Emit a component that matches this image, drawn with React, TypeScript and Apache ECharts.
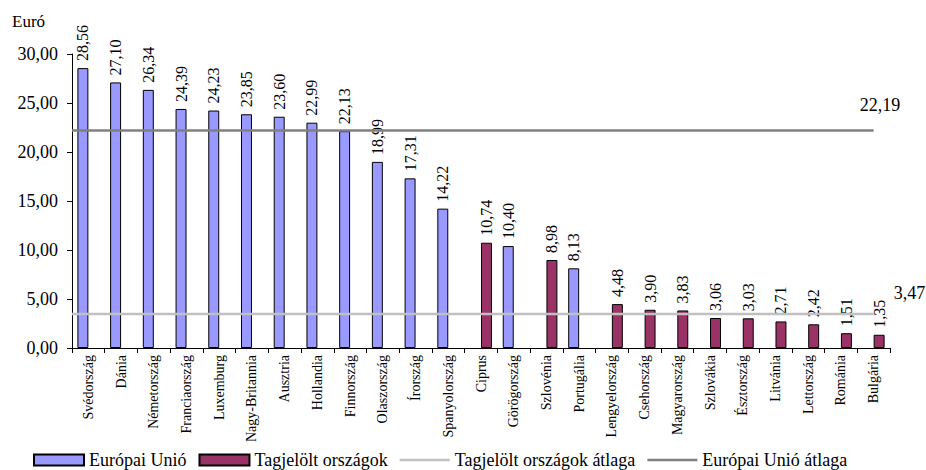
import React, { useEffect, useRef } from "react";
import * as echarts from "echarts";

const categories = [
  "Svédország", "Dánia", "Németország", "Franciaország", "Luxemburg", "Nagy-Britannia",
  "Ausztria", "Hollandia", "Finnország", "Olaszország", "Írország", "Spanyolország",
  "Ciprus", "Görögország", "Szlovénia", "Portugália", "Lengyelország", "Csehország",
  "Magyarország", "Szlovákia", "Észtország", "Litvánia", "Lettország", "Románia", "Bulgária",
];

const euValues = [
  28.56, 27.10, 26.34, 24.39, 24.23, 23.85, 23.60, 22.99, 22.13, 18.99, 17.31, 14.22,
  null, 10.40, null, 8.13, null, null, null, null, null, null, null, null, null,
];

const candidateValues = [
  null, null, null, null, null, null, null, null, null, null, null, null,
  10.74, null, 8.98, null, 4.48, 3.90, 3.83, 3.06, 3.03, 2.71, 2.42, 1.51, 1.35,
];

const euAverage = 22.19;
const candidateAverage = 3.47;

const yTicks = { min: 0, max: 30, interval: 5 };

const seriesNames = [
  "Európai Unió",
  "Tagjelölt országok",
  "Tagjelölt országok átlaga",
  "Európai Unió átlaga",
];

const FONT = "Times New Roman, Liberation Serif, serif";
const fmt = (v: number) => v.toFixed(2).replace(".", ",");
const LINE_ICON = "path://M0,0L50,0L50,2.5L0,2.5Z";

export default function App() {
  const ref = useRef<HTMLDivElement>(null);
  useEffect(() => {
    if (!ref.current) return;
    const chart = echarts.init(ref.current, undefined, { renderer: "svg" });
    const lineEnd = categories.length - 0.5;
    const barLabel = {
      show: true,
      position: "top",
      rotate: 90,
      align: "left",
      verticalAlign: "middle",
      distance: 7,
      fontSize: 16,
      fontFamily: FONT,
      color: "#000",
      formatter: (p: any) => fmt(p.value),
    };
    chart.setOption({
      animation: false,
      textStyle: { fontFamily: FONT, color: "#000" },
      title: {
        text: "Euró",
        left: 7,
        top: 8,
        textStyle: { fontFamily: FONT, fontSize: 17, fontWeight: "normal", color: "#000" },
      },
      grid: { left: 72, right: 36, top: 54, bottom: 122 },
      legend: {
        data: [
          { name: seriesNames[0], icon: "rect" },
          { name: seriesNames[1], icon: "rect" },
          { name: seriesNames[2], icon: LINE_ICON },
          { name: seriesNames[3], icon: LINE_ICON },
        ],
        left: 33,
        top: 451,
        padding: 0,
        itemWidth: 50,
        itemHeight: 11,
        itemGap: 12,
        textStyle: { fontFamily: FONT, fontSize: 18, color: "#000" },
      },
      xAxis: [
        {
          type: "category",
          data: categories,
          axisLine: { lineStyle: { color: "#000", width: 1 } },
          axisTick: { show: true, length: 5, lineStyle: { color: "#000" } },
          axisLabel: {
            rotate: 90,
            interval: 0,
            fontSize: 14,
            fontFamily: FONT,
            color: "#000",
            margin: 7,
          },
        },
        { type: "value", min: 0, max: categories.length, show: false },
      ],
      yAxis: {
        type: "value",
        min: yTicks.min,
        max: yTicks.max,
        interval: yTicks.interval,
        axisLine: { show: true, lineStyle: { color: "#000", width: 1 } },
        axisTick: { show: true, length: 5, lineStyle: { color: "#000" } },
        splitLine: { show: false },
        axisLabel: {
          formatter: (v: number) => fmt(v),
          fontSize: 18,
          fontFamily: FONT,
          color: "#000",
          margin: 14,
        },
      },
      series: [
        {
          name: seriesNames[0],
          type: "bar",
          data: euValues,
          barGap: "0%",
          barCategoryGap: "33%",
          itemStyle: { color: "#9999FF", borderColor: "#000", borderWidth: 1 },
          label: barLabel,
        },
        {
          name: seriesNames[1],
          type: "bar",
          data: candidateValues,
          barGap: "0%",
          barCategoryGap: "33%",
          itemStyle: { color: "#993366", borderColor: "#000", borderWidth: 1 },
          label: barLabel,
        },
        {
          name: seriesNames[2],
          type: "line",
          xAxisIndex: 1,
          symbol: "none",
          data: [[0, candidateAverage], [lineEnd, candidateAverage]],
          lineStyle: { color: "#C0C0C0", width: 2.5 },
          itemStyle: { color: "#C0C0C0" },
          z: 5,
          endLabel: {
            show: true,
            formatter: () => fmt(candidateAverage),
            fontSize: 18,
            fontFamily: FONT,
            color: "#000",
            offset: [12, -21],
          },
        },
        {
          name: seriesNames[3],
          type: "line",
          xAxisIndex: 1,
          symbol: "none",
          data: [[0, euAverage], [lineEnd, euAverage]],
          lineStyle: { color: "#808080", width: 2.5 },
          itemStyle: { color: "#808080" },
          z: 5,
          endLabel: {
            show: true,
            formatter: () => fmt(euAverage),
            fontSize: 18,
            fontFamily: FONT,
            color: "#000",
            offset: [-22, -26],
          },
        },
      ],
    });
    return () => chart.dispose();
  }, []);
  return (
    <div
      ref={ref}
      style={{ position: "absolute", left: 0, top: 0, width: 926, height: 470 }}
    />
  );
}
